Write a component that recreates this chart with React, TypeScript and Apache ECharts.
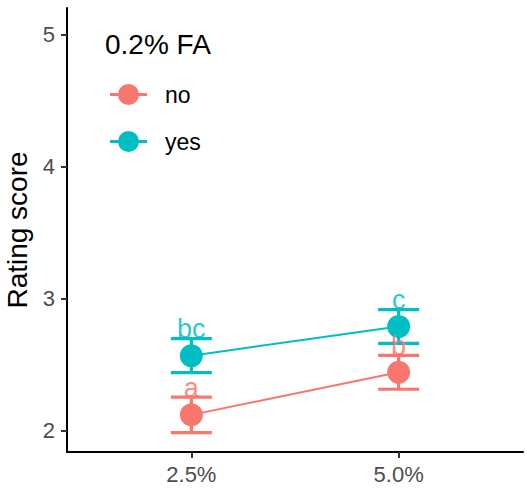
import React, { useEffect, useRef } from "react";
import * as echarts from "echarts";

// Fortification level on the x axis
const doses = ["2.5%", "5.0%"];
// Group means and standard errors of the rating score
const noMean = [2.121, 2.443];
const noSe = [0.134, 0.128];
const yesMean = [2.569, 2.79];
const yesSe = [0.129, 0.128];
// Significance letters above each error bar
const noLetters = ["a", "b"];
const yesLetters = ["bc", "c"];
const yTicks = [2, 3, 4, 5];

const RED = "#F8766D";
const CYAN = "#00BFC4";
const FONT = "'Liberation Sans', Arial, Helvetica, sans-serif";

const errorRows = (mean: number[], se: number[]) =>
  mean.map((m, i) => [i + 1, m - se[i], m + se[i]]);
const letterRows = (mean: number[], se: number[], letters: string[]) =>
  mean.map((m, i) => [i + 1, m + se[i], letters[i]]);

const errorBarSeries = (name: string, color: string, mean: number[], se: number[]) => ({
  type: "custom",
  name,
  data: errorRows(mean, se),
  encode: { x: 0, y: [1, 2] },
  z: 2,
  renderItem: (params: any, api: any) => {
    const x = api.value(0);
    const lo = api.coord([x, api.value(1)]);
    const hi = api.coord([x, api.value(2)]);
    const half = 20.5;
    const style = { stroke: color, lineWidth: 3.2 };
    return {
      type: "group",
      children: [
        { type: "line", shape: { x1: lo[0], y1: lo[1], x2: hi[0], y2: hi[1] }, style },
        { type: "line", shape: { x1: hi[0] - half, y1: hi[1], x2: hi[0] + half, y2: hi[1] }, style },
        { type: "line", shape: { x1: lo[0] - half, y1: lo[1], x2: lo[0] + half, y2: lo[1] }, style },
      ],
    };
  },
});

const meanSeries = (name: string, color: string, mean: number[]) => ({
  type: "line",
  name,
  data: mean.map((m, i) => [i + 1, m]),
  symbol: "circle",
  symbolSize: 23,
  lineStyle: { color, width: 2 },
  itemStyle: { color },
  z: 3,
});

const letterSeries = (name: string, color: string, mean: number[], se: number[], letters: string[]) => ({
  type: "custom",
  name,
  data: letterRows(mean, se, letters),
  encode: { x: 0, y: 1 },
  z: 4,
  renderItem: (params: any, api: any) => {
    const p = api.coord([api.value(0), api.value(1)]);
    return {
      type: "text",
      x: p[0],
      y: p[1] + 4,
      style: {
        text: letters[params.dataIndex],
        fill: color,
        opacity: 0.85,
        fontSize: 27,
        fontFamily: FONT,
        align: "center",
        verticalAlign: "bottom",
      },
    };
  },
});

// Legend key: short horizontal bar with a dot on it
const legendIcon =
  "path://M0,9 L37,9 L37,12 L0,12 Z M18.5,0 A10.5,10.5 0 1,1 18.5,21 A10.5,10.5 0 1,1 18.5,0 Z";

export default function App() {
  const ref = useRef<HTMLDivElement>(null);

  useEffect(() => {
    if (!ref.current) return;
    const chart = echarts.init(ref.current, null, { renderer: "svg" });
    chart.setOption({
      animation: false,
      backgroundColor: "#ffffff",
      textStyle: { fontFamily: FONT },
      title: {
        text: "0.2% FA",
        left: 105,
        top: 30,
        padding: 0,
        textStyle: { fontSize: 28, fontWeight: "normal", color: "#000", fontFamily: FONT },
      },
      legend: {
        data: [
          { name: "no", icon: legendIcon, itemStyle: { color: RED } },
          { name: "yes", icon: legendIcon, itemStyle: { color: CYAN } },
        ],
        orient: "vertical",
        left: 110,
        top: 83,
        padding: 0,
        itemWidth: 37,
        itemHeight: 21,
        itemGap: 24,
        selectedMode: false,
        textStyle: { fontSize: 23, color: "#000", fontFamily: FONT, padding: [0, 0, 0, 13] },
      },
      grid: { left: 67, right: 4, top: 8, bottom: 43, containLabel: false, outerBoundsMode: "none" },
      xAxis: {
        type: "value",
        min: 0.4,
        max: 2.6,
        splitLine: { show: false },
        axisLine: { show: true, onZero: false, lineStyle: { color: "#000", width: 2 } },
        axisTick: { show: true, customValues: [1, 2], length: 6, lineStyle: { color: "#333", width: 2 } },
        axisLabel: {
          customValues: [1, 2],
          formatter: (v: number) => doses[Math.round(v) - 1] ?? "",
          fontSize: 22,
          color: "#4d4d4d",
          margin: 11,
          fontFamily: FONT,
        },
      },
      yAxis: {
        type: "value",
        min: 1.84,
        max: 5.2,
        name: "Rating score",
        nameLocation: "middle",
        nameGap: 36,
        nameTextStyle: { fontSize: 28, color: "#000", fontFamily: FONT },
        splitLine: { show: false },
        axisLine: { show: true, onZero: false, lineStyle: { color: "#000", width: 2 } },
        axisTick: { show: true, customValues: yTicks, length: 6, lineStyle: { color: "#333", width: 2 } },
        axisLabel: {
          customValues: yTicks,
          fontSize: 22,
          color: "#4d4d4d",
          margin: 12,
          fontFamily: FONT,
        },
      },
      series: [
        errorBarSeries("no", RED, noMean, noSe),
        errorBarSeries("yes", CYAN, yesMean, yesSe),
        meanSeries("no", RED, noMean),
        meanSeries("yes", CYAN, yesMean),
        letterSeries("no", RED, noMean, noSe, noLetters),
        letterSeries("yes", CYAN, yesMean, yesSe, yesLetters),
      ],
    });
    return () => chart.dispose();
  }, []);

  return (
    <div
      ref={ref}
      style={{ position: "fixed", left: 0, top: 0, width: 527, height: 495, background: "#fff" }}
    />
  );
}
